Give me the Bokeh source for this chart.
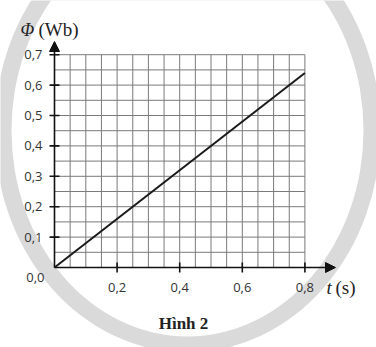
from bokeh.plotting import figure
from bokeh.models import Range1d, Arrow, NormalHead
from bokeh.core.properties import value
from bokeh.embed import file_html
from bokeh.resources import INLINE

# --- data ---
t_vals = [0.0, 0.8]
phi_vals = [0.0, 0.64]
x_grid = [0.0, 0.05, 0.1, 0.15, 0.2, 0.25, 0.3, 0.35, 0.4, 0.45, 0.5, 0.55, 0.6, 0.65, 0.7, 0.75, 0.8]
y_grid = [0.0, 0.05, 0.1, 0.15, 0.2, 0.25, 0.3, 0.35, 0.4, 0.45, 0.5, 0.55, 0.6, 0.65, 0.7]
x_ticks = [0.2, 0.4, 0.6, 0.8]
x_tick_labels = ["0,2", "0,4", "0,6", "0,8"]
y_ticks = [0.1, 0.2, 0.3, 0.4, 0.5, 0.6, 0.7]
y_tick_labels = ["0,1", "0,2", "0,3", "0,4", "0,5", "0,6", "0,7"]

W, H = 376, 347
X0, SX = 54.0, 313.0   # pixel of t=0, px per unit
Y0, SY = 267.0, 304.0  # pixel (from top) of phi=0, px per unit

p = figure(width=W, height=H, output_backend="svg", toolbar_location=None,
           x_range=Range1d(-X0 / SX, (W - X0) / SX),
           y_range=Range1d(-(H - Y0) / SY, Y0 / SY),
           min_border=0, min_border_left=0, min_border_right=0,
           min_border_top=0, min_border_bottom=0)
p.axis.visible = False
p.grid.visible = False
p.outline_line_color = None
p.background_fill_color = "white"
p.border_fill_color = "white"

# watermark ring (decoration)
cx, cy = (187 - X0) / SX, (Y0 - 130) / SY
p.ellipse(x=[cx], y=[cy], width=386, height=444, width_units="screen", height_units="screen",
          fill_color="#dadada", line_color=None)
p.ellipse(x=[cx], y=[cy], width=352, height=412, width_units="screen", height_units="screen",
          fill_color="white", line_color=None)

# grid
gx0, gx1 = x_grid[0], x_grid[-1]
gy0, gy1 = y_grid[0], y_grid[-1]
p.segment(x0=x_grid, y0=[gy0] * len(x_grid), x1=x_grid, y1=[gy1] * len(x_grid),
          line_color="#7a7a7a", line_width=1)
p.segment(x0=[gx0] * len(y_grid), y0=y_grid, x1=[gx1] * len(y_grid), y1=y_grid,
          line_color="#7a7a7a", line_width=1)

# axes with arrows
p.add_layout(Arrow(x_start=0, y_start=0, x_end=(335 - X0) / SX, y_end=0,
                   line_color="#111111", line_width=1.6,
                   end=NormalHead(size=10, fill_color="#111111", line_color="#111111")))
p.add_layout(Arrow(x_start=0, y_start=0, x_end=0, y_end=(Y0 - 41) / SY,
                   line_color="#111111", line_width=1.6,
                   end=NormalHead(size=10, fill_color="#111111", line_color="#111111")))

# ticks
tl = 5.0
p.segment(x0=x_ticks, y0=[-tl / SY] * len(x_ticks), x1=x_ticks, y1=[tl / SY] * len(x_ticks),
          line_color="#111111", line_width=1.6)
p.segment(x0=[-tl / SX] * len(y_ticks), y0=y_ticks, x1=[tl / SX] * len(y_ticks), y1=y_ticks,
          line_color="#111111", line_width=1.6)

# data line
p.line(t_vals, phi_vals, line_color="#1a1a1a", line_width=2)

# tick labels
p.text(x=x_ticks, y=[0] * len(x_ticks), text=x_tick_labels, text_font=value("Open Sans"),
       text_font_size="13px", text_color="#333333", text_align="center",
       text_baseline="middle", y_offset=20)
p.text(x=[0] * len(y_ticks), y=y_ticks, text=y_tick_labels, text_font=value("Open Sans"),
       text_font_size="13px", text_color="#333333", text_align="right",
       text_baseline="middle", x_offset=-12)
p.text(x=[0], y=[0], text=["0,0"], text_font=value("Open Sans"),
       text_font_size="13px", text_color="#333333", text_align="right",
       text_baseline="middle", x_offset=-10, y_offset=10)

# axis titles
p.text(x=[0], y=[0], text=["Φ"], text_font=value("Liberation Serif"), text_font_style="italic",
       text_font_size="18px", text_color="#222222", text_align="left", text_baseline="middle",
       x_offset=20 - X0, y_offset=29 - Y0)
p.text(x=[0], y=[0], text=["(Wb)"], text_font=value("Liberation Serif"),
       text_font_size="19px", text_color="#222222", text_align="left", text_baseline="middle",
       x_offset=38 - X0, y_offset=29 - Y0)
p.text(x=[0], y=[0], text=["t"], text_font=value("Liberation Serif"), text_font_style="italic",
       text_font_size="19px", text_color="#222222", text_align="left", text_baseline="middle",
       x_offset=326 - X0, y_offset=287 - Y0)
p.text(x=[0], y=[0], text=["(s)"], text_font=value("Liberation Serif"),
       text_font_size="19px", text_color="#222222", text_align="left", text_baseline="middle",
       x_offset=335 - X0, y_offset=287 - Y0)

# caption
p.text(x=[0], y=[0], text=["Hình 2"], text_font=value("Liberation Serif"), text_font_style="bold",
       text_font_size="17px", text_color="#222222", text_align="center", text_baseline="middle",
       x_offset=183 - X0, y_offset=323 - Y0)

open("out.html", "w").write(file_html(p, INLINE))
